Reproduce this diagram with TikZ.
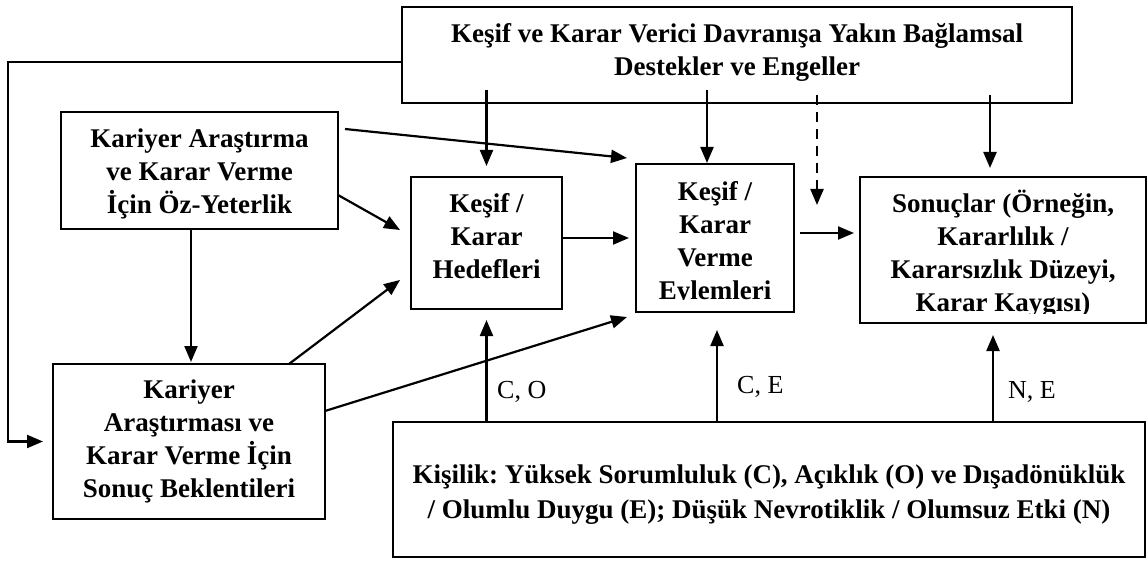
\documentclass[tikz,border=0pt]{standalone}
\usepackage{fontspec}
\setmainfont{Liberation Serif}
\usetikzlibrary{arrows.meta}
% fixed height for the first line of every box text
\newcommand\firstline{\rule{0pt}{26pt}}
\frenchspacing
\begin{document}
\begin{tikzpicture}[x=1pt,y=-1pt,
  box/.style={draw,line width=2pt,inner sep=0pt,outer sep=0pt,rectangle},
  txt/.style={align=center,inner sep=0pt,anchor=north,font=\fontsize{27}{33}\selectfont\bfseries},
  lbl/.style={inner sep=0pt,anchor=base west,font=\fontsize{26}{33}\selectfont},
  arr/.style={line width=2.2pt,-{Triangle[length=16pt,width=13pt]}}]
\useasboundingbox (0,0) rectangle (1147,561);

% boxes
\node[box,minimum width=670pt,minimum height=96pt]  (T) at (737,55) {};
\node[box,minimum width=277pt,minimum height=117pt] (A) at (199.5,170.5) {};
\node[box,minimum width=151pt,minimum height=132pt] (H) at (486.5,243) {};
\node[box,minimum width=158pt,minimum height=148pt] (E) at (715,238) {};
\node[box,minimum width=286pt,minimum height=146pt] (S) at (1003,250) {};
\node[box,minimum width=272pt,minimum height=155pt] (B) at (189,441.5) {};
\node[box,minimum width=752pt,minimum height=135pt] (P) at (769,489.5) {};

% box texts
\node[txt] (Tt) at (737,16) {\firstline Keşif ve Karar Verici Davranışa Yakın Bağlamsal\\Destekler ve Engeller};
\node[txt] (At) at (199.5,121) {\firstline Kariyer Araştırma\\ve Karar Verme\\İçin Öz-Yeterlik};
\node[txt] (Ht) at (486.5,186) {\firstline Keşif /\\Karar\\Hedefleri};
\begin{scope}
  \clip (E.north west) rectangle (794,299);
  \node[txt] (Et) at (715,174) {\firstline Keşif /\\Karar\\Verme\\Eylemleri};
\end{scope}
\begin{scope}
  \clip (S.north west) rectangle (1146,313);
  \node[txt] (St) at (1003,186) {\firstline Sonuçlar (Örneğin,\\Kararlılık /\\Kararsızlık Düzeyi,\\Karar Kaygısı)};
\end{scope}
\node[txt] (Bt) at (189,372) {\firstline Kariyer\\Araştırması ve\\Karar Verme İçin\\Sonuç Beklentileri};
\node[txt,font=\fontsize{27}{35}\selectfont\bfseries] (Pt) at (769,457)
  {\firstline Kişilik: Yüksek Sorumluluk (C), Açıklık (O) ve Dışadönüklük\\/ Olumlu Duygu (E); Düşük Nevrotiklik / Olumsuz Etki (N)};

% helper points
\coordinate (fbx) at (8,0);
\coordinate (abx) at (191,0);
\coordinate (te) at ([xshift=-8pt]E.north);
\coordinate (dz) at (817,205);
\coordinate (ts) at ([xshift=-13pt]S.north);
\coordinate (pe) at ([xshift=2pt]E.south);
\coordinate (ps) at ([xshift=-10pt]S.south);

% feedback loop from the context box to the outcome expectations
\draw[arr] ([yshift=-7pt]T.west) -| (fbx |- B.west) -- ([xshift=-10pt]B.west);

% arrows from the context box
\draw[arr,shorten <=-13pt,shorten >=11pt] (T.south -| H.north) -- (H.north);
\draw[arr,shorten <=-13pt,shorten >=1pt] (T.south -| te) -- (te);
\draw[arr,dash pattern=on 10pt off 7pt,shorten <=-8pt] (T.south -| dz) -- (dz);
\draw[arr,shorten <=-8pt,shorten >=9pt] (T.south -| ts) -- (ts);

% self-efficacy and outcome expectations
\draw[arr] ([xshift=7pt,yshift=41.5pt]A.east) -- ([xshift=-9pt,yshift=80pt]E.west);
\draw[arr] ([yshift=-24.5pt]A.east) -- ([xshift=-11pt,yshift=13pt]H.west);
\draw[arr,shorten >=2pt] (A.south -| abx) -- (B.north -| abx);
\draw[arr] ([xshift=100pt]B.north) -- ([xshift=-11pt,yshift=-37pt]H.west);
\draw[arr] ([yshift=30.5pt]B.east) -- ([xshift=-9pt,yshift=-79pt]E.west);

% goals -> actions -> outcomes
\draw[arr] ([yshift=5pt]H.east) -- ([xshift=-7pt]E.west);
\draw[arr] ([xshift=6pt,yshift=5pt]E.east) coordinate (es) -- ([xshift=-6pt]S.west |- es);

% personality effects
\draw[arr,shorten >=11pt] (P.north -| H.south) -- (H.south);
\draw[arr,shorten >=18pt] (P.north -| pe) -- (pe);
\draw[arr,shorten >=12pt] (P.north -| ps) -- (ps);
\node[lbl] (lco) at (497,398) {C, O};
\node[lbl] (lce) at (737,393) {C, E};
\node[lbl] (lne) at (1008,398) {N, E};
\end{tikzpicture}
\end{document}
